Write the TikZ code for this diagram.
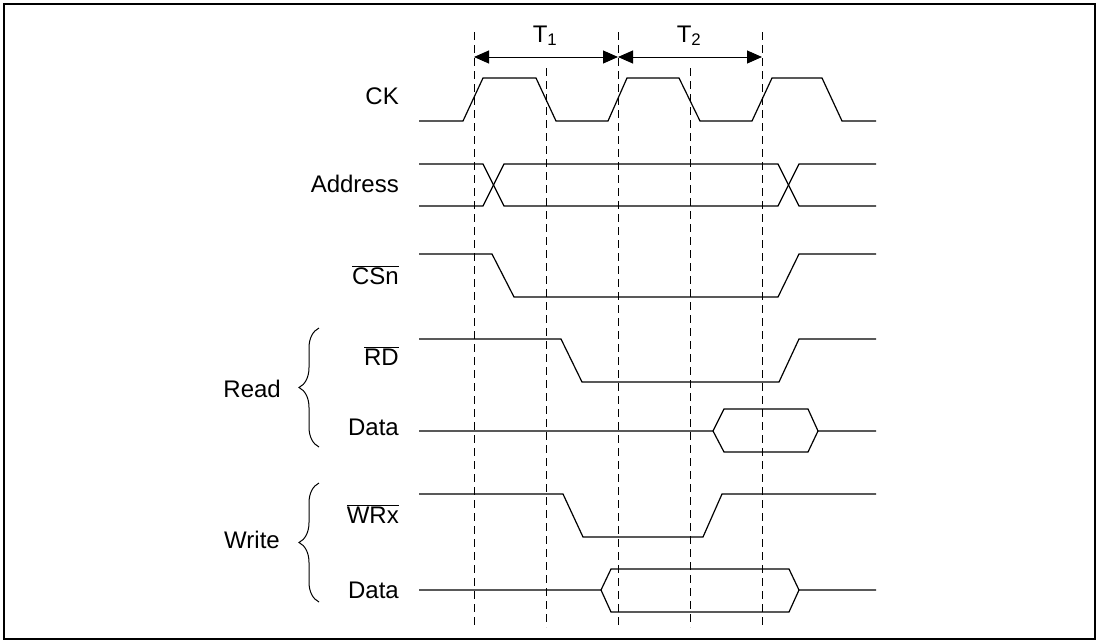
\documentclass[tikz,border=0pt]{standalone}
\usepackage{fontspec}
\setmainfont{Liberation Sans}
\usetikzlibrary{arrows.meta,decorations.pathreplacing}
\tikzset{sig/.style={line width=1.2pt,line join=miter},
         guide/.style={line width=0.8pt,dash pattern=on 8pt off 5pt},
         lbl/.style={anchor=base east,inner sep=0pt,font=\fontsize{24}{28}\selectfont},
         tlbl/.style={anchor=base,inner sep=0pt,font=\fontsize{24}{28}\selectfont},
         dim/.style={{Triangle[length=15pt,width=13pt]}-{Triangle[length=15pt,width=13pt]},line width=1pt},
         grp/.style={decorate,decoration={brace,amplitude=20pt},line width=1pt}}
\newcommand{\activelow}[1]{$\overline{\mbox{#1}}$}

\begin{document}
\begin{tikzpicture}[x=1pt,y=-1pt]
 \useasboundingbox (0,0) rectangle (1098,643);
 \draw[line width=1.5pt] (4,4) rectangle (1095,639);
 % guide lines, one per half period
 \draw[guide] (474,32)--(474,627);
 \draw[guide] (546,68)--(546,627);
 \draw[guide] (618,32)--(618,627);
 \draw[guide] (690,68)--(690,627);
 \draw[guide] (762,32)--(762,627);
 % periods
 \coordinate (p0) at (474,57); \coordinate (p1) at (618,57); \coordinate (p2) at (762,57);
 \draw[dim] (p0)--(p1); \draw[dim] (p1)--(p2);
 \node[tlbl] (t1) at (545,42) {T\textsubscript{1}};
 \node[tlbl] (t2) at (689,42) {T\textsubscript{2}};
 % signal names
 \node[lbl] (ck) at (399,104) {CK};
 \node[lbl] (addr) at (399,192) {Address};
 \node[lbl] (cs) at (399,284) {\activelow{CSn}};
 \node[lbl] (rd) at (399,365) {\activelow{RD}};
 \node[lbl] (rdata) at (399,435) {Data};
 \node[lbl] (wr) at (399,523) {\activelow{WRx}};
 \node[lbl] (wdata) at (399,598) {Data};
 \node[lbl] (read) at (281,397) {Read};
 \node[lbl] (write) at (280,548) {Write};
 \draw[grp] (319,447)--(319,328);
 \draw[grp] (319,602)--(319,483);
 % waveforms
 \draw[sig] (419,121)--(463,121)--(483,78)--(536,78)--(556,121)--(608,121)--(627,78)--(679,78)--(700,121)--(752,121)--(772,78)--(822,78)--(842,121)--(876,121);
 \draw[sig] (419,164)--(483,164)--(504,206)--(778,206)--(799,164)--(876,164);
 \draw[sig] (419,206)--(483,206)--(504,164)--(778,164)--(799,206)--(876,206);
 \draw[sig] (419,254)--(492,254)--(514,297)--(778,297)--(799,254)--(876,254);
 \draw[sig] (419,339)--(561,339)--(582,382)--(779,382)--(799,339)--(876,339);
 \draw[sig] (419,431)--(713,431)--(724,409)--(808,409)--(818,431)--(876,431);
 \draw[sig] (713,431)--(724,452)--(808,452)--(818,431);
 \draw[sig] (419,494)--(563,494)--(583,537)--(703,537)--(722,494)--(876,494);
 \draw[sig] (419,590)--(601,590)--(611,569)--(789,569)--(799,590)--(876,590);
 \draw[sig] (601,590)--(611,612)--(789,612)--(799,590);
\end{tikzpicture}
\end{document}
